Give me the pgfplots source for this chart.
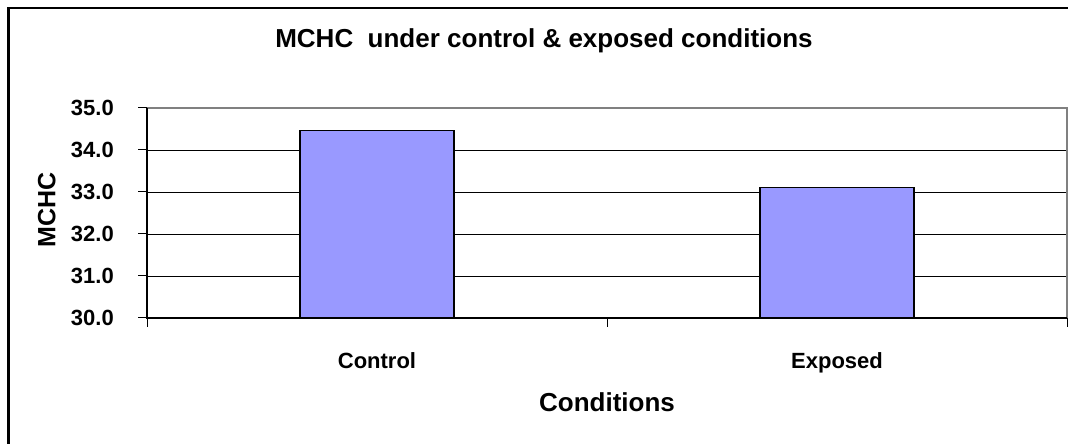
\documentclass[border=0pt]{standalone}
\usepackage{fontspec}
\setmainfont{Liberation Sans}
\usepackage{pgfplots}
\pgfplotsset{compat=1.18}
\definecolor{barfill}{HTML}{9999FF}
\definecolor{framegray}{HTML}{808080}
\begin{document}
\begin{tikzpicture}[x=1pt,y=1pt]
\path[use as bounding box] (0,0) rectangle (1068,444);
\draw[line width=2.2pt] (8.5,-20) -- (8.5,436) -- (1090,436);
\begin{axis}[
  at={(147pt,126pt)}, anchor=south west, scale only axis,
  width=920pt, height=210pt,
  xmin=-0.5, xmax=1.5, ymin=30, ymax=35,
  ybar, bar width=154pt, bar shift=0pt,
  ytick={30,31,32,33,34,35},
  scaled y ticks=false,
  xtick pos=bottom, ytick pos=left,
  ymajorgrids, grid style={black, line width=0.9pt},
  xtick={-0.5,0.5,1.5}, xticklabels={},
  extra x ticks={0,1}, extra x tick labels={Control,Exposed},
  extra x tick style={major tick length=0pt, grid=none,
    xticklabel style={anchor=base, yshift=-51pt}},
  tick align=outside, major tick length=9pt,
  tick style={black, line width=1pt},
  axis line style={draw=none},
  tick label style={font=\bfseries\fontsize{22}{26}\selectfont},
  yticklabel style={anchor=east, inner sep=0pt, xshift=-24pt,
    /pgf/number format/fixed, /pgf/number format/fixed zerofill,
    /pgf/number format/precision=1, /pgf/number format/assume math mode=true},
  title={MCHC~ under control \& exposed conditions},
  title style={at={(rel axis cs:0.4315,1)}, anchor=base, yshift=54pt,
    inner sep=0pt, font=\bfseries\fontsize{26}{30}\selectfont},
  xlabel={Conditions},
  xlabel style={at={(rel axis cs:0.5,0)}, anchor=base, yshift=-94pt,
    inner sep=0pt, font=\bfseries\fontsize{26}{30}\selectfont},
  ylabel={MCHC},
  ylabel style={at={(rel axis cs:-0.109,0.514)}, anchor=center,
    inner sep=0pt, font=\bfseries\fontsize{25}{30}\selectfont},
  after end axis/.code={
    \draw[framegray, line width=1.5pt] (rel axis cs:0,1) -- (rel axis cs:1,1) -- (rel axis cs:1,0);
    \draw[black, line width=1.5pt] (rel axis cs:0,1) -- (rel axis cs:0,0) -- (rel axis cs:1,0);
  },
]
\addplot[fill=barfill, draw=black, line width=1.2pt] coordinates {(0,34.46) (1,33.1)};
\end{axis}
\end{tikzpicture}
\end{document}
